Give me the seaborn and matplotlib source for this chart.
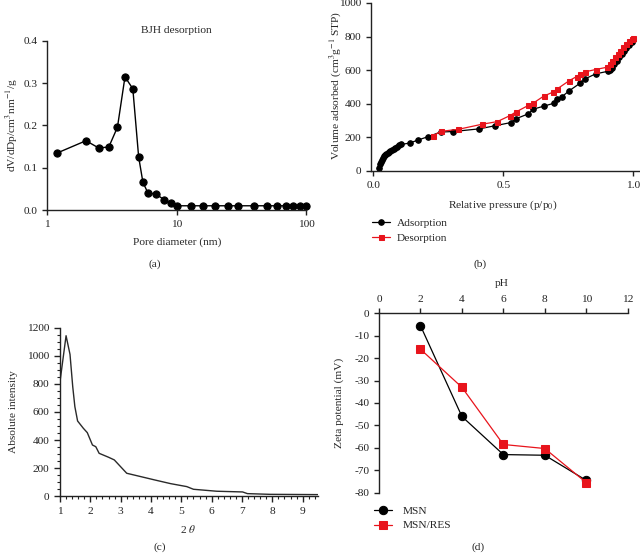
import numpy as np
import pandas as pd
import matplotlib
matplotlib.use("Agg")
import matplotlib.pyplot as plt
import seaborn as sns
from matplotlib.ticker import MultipleLocator, NullLocator, FixedLocator, FuncFormatter

# ---------------- data ----------------
# (a) BJH desorption
pore_d = [1.2, 2, 2.5, 3, 3.5, 4, 4.6, 5.1, 5.5, 6, 7, 8, 9, 10, 13, 16, 20, 25, 30,
          40, 50, 60, 70, 80, 90, 100]
dvdd = [0.135, 0.164, 0.147, 0.149, 0.196, 0.315, 0.287, 0.126, 0.066, 0.041, 0.037,
        0.0245, 0.016, 0.010, 0.010, 0.010, 0.010, 0.010, 0.010, 0.010, 0.010, 0.010,
        0.010, 0.010, 0.010, 0.010]

# (b) isotherm
ads_p = [0.02, 0.025, 0.028, 0.032, 0.036, 0.04, 0.045, 0.05, 0.055, 0.06, 0.065, 0.07,
         0.078, 0.085, 0.092, 0.1, 0.108, 0.141, 0.173, 0.212, 0.259, 0.308, 0.408,
         0.47, 0.528, 0.547, 0.596, 0.615, 0.656, 0.696, 0.706, 0.724, 0.754, 0.795,
         0.814, 0.855, 0.904, 0.91, 0.919, 0.927, 0.936, 0.945, 0.955, 0.965, 0.974,
         0.985, 0.994, 1.0]
ads_v = [16, 40, 55, 68, 80, 88, 96, 103, 108, 114, 120, 126, 133, 139, 145, 152, 158,
         167, 185, 205, 232, 235, 251, 270, 288, 310, 340, 368, 386, 404, 430, 440,
         478, 522, 548, 578, 594, 602, 616, 636, 656, 676, 696, 712, 730, 750, 766, 782]
des_p = [0.231, 0.259, 0.327, 0.417, 0.477, 0.526, 0.547, 0.596, 0.615, 0.656, 0.692,
         0.705, 0.754, 0.782, 0.795, 0.814, 0.855, 0.9, 0.91, 0.92, 0.929, 0.94, 0.949,
         0.962, 0.972, 0.983, 0.994, 1.0]
des_v = [210, 236, 248, 278, 294, 330, 350, 390, 404, 446, 470, 486, 538, 562, 576, 590,
         604, 618, 636, 656, 676, 696, 716, 736, 756, 776, 788, 790]

# (c) XRD
two_theta = [1.0, 1.2, 1.33, 1.42, 1.49, 1.58, 1.77, 1.9, 2.07, 2.18, 2.29, 2.6, 2.79,
             3.2, 4.13, 4.65, 5.18, 5.4, 6.17, 7.02, 7.18, 7.92, 9.5]
intensity = [816, 1143, 1010, 780, 638, 536, 484, 453, 365, 353, 306, 278, 259,
             164, 116, 90, 69, 50, 36, 31, 19, 14, 12]

# (d) zeta potential
ph = [2, 4, 6, 8, 10]
zeta_msn = [-5.5, -46, -63, -63.3, -74.5]
zeta_res = [-16, -33, -58.5, -60.3, -75.5]

# ---------------- style ----------------
sns.set_theme(style="ticks")
plt.rcParams['font.family'] = ['Liberation Serif', 'DejaVu Serif']
plt.rcParams['mathtext.fontset'] = 'stix'
FS = 8.2
plt.rcParams.update({
    'font.size': FS, 'axes.labelsize': FS, 'xtick.labelsize': FS, 'ytick.labelsize': FS,
    'axes.edgecolor': '#222222', 'axes.linewidth': 1.0,
    'xtick.color': '#222222', 'ytick.color': '#222222',
    'xtick.major.width': 1.0, 'ytick.major.width': 1.0,
    'xtick.major.size': 3.5, 'ytick.major.size': 3.5,
    'xtick.direction': 'out', 'ytick.direction': 'out',
    'axes.unicode_minus': False,
})

W, H = 640, 555
fig = plt.figure(figsize=(W / 100, H / 100), dpi=100)


def rect(l, r, t, b):
    return [l / W, 1 - b / H, (r - l) / W, (b - t) / H]


RED = '#e8141c'

# ---- (a)
axa = fig.add_axes(rect(47, 306, 41, 210))
sns.lineplot(x=pore_d, y=dvdd, ax=axa, color='black', lw=1.0, marker='o',
             markersize=5.2, markeredgecolor='black', estimator=None, clip_on=False)
axa.set_xscale('log')
axa.set_xlim(1, 100)
axa.set_ylim(0, 0.4)
axa.xaxis.set_major_locator(FixedLocator([1, 10, 100]))
axa.xaxis.set_minor_locator(NullLocator())
axa.xaxis.set_major_formatter(FuncFormatter(lambda v, p: f"{v:g}"))
axa.yaxis.set_major_locator(MultipleLocator(0.1))
axa.yaxis.set_major_formatter(FuncFormatter(lambda v, p: f"{v:.1f}"))
sns.despine(ax=axa)
axa.set_xlabel('')
axa.set_ylabel('')
fig.text(176.7 / W, 1 - 30.7 / H, 'BJH desorption', ha='center', va='center', fontsize=FS)
fig.text(176.7 / W, 1 - 241.7 / H, 'Pore diameter (nm)', ha='center', va='center', fontsize=FS)
fig.text(12 / W, 1 - 125 / H, r'dV/dDp/cm$^3$nm$^{-1}$/g', ha='center', va='center',
         rotation=90, fontsize=FS)
fig.text(155 / W, 1 - 264 / H, '(a)', ha='center', va='center', fontsize=FS)

# ---- (b)
axb = fig.add_axes(rect(371, 640, 3, 171))
sns.lineplot(x=ads_p, y=ads_v, ax=axb, color='black', lw=0.9, marker='o',
             markersize=4, markeredgecolor='black', estimator=None, sort=False,
             label='Adsorption')
sns.lineplot(x=des_p, y=des_v, ax=axb, color=RED, lw=0.9, marker='s',
             markersize=3.6, markeredgecolor=RED, estimator=None, sort=False,
             label='Desorption')
axb.set_xlim(-0.009, 1.026)
axb.set_ylim(0, 1000)
axb.xaxis.set_major_locator(FixedLocator([0, 0.5, 1.0]))
axb.xaxis.set_major_formatter(FuncFormatter(lambda v, p: f"{v:.1f}"))
axb.yaxis.set_major_locator(MultipleLocator(200))
sns.despine(ax=axb)
axb.set_xlabel('')
axb.set_ylabel('')
fig.text(503 / W, 1 - 205.7 / H, r'Relative pressure (p/p$_0$)', ha='center', va='center',
         fontsize=FS)
fig.text(335 / W, 1 - 85 / H, r'Volume adsorbed (cm$^3$g$^{-1}$ STP)', ha='center',
         va='center', rotation=90, fontsize=FS)
axb.legend(loc='upper left', bbox_to_anchor=(372 / W, 1 - 218 / H),
           bbox_transform=fig.transFigure, frameon=False, fontsize=FS,
           handlelength=1.6, handletextpad=0.6, labelspacing=0.45, borderpad=0,
           borderaxespad=0)
fig.text(480 / W, 1 - 264 / H, '(b)', ha='center', va='center', fontsize=FS)

# ---- (c)
axc = fig.add_axes(rect(60, 317.8, 327.7, 496.3))
sns.lineplot(x=two_theta, y=intensity, ax=axc, color='#2a2a2a', lw=1.0, estimator=None,
             sort=False)
axc.set_xlim(1, 9.5)
axc.set_ylim(0, 1200)
axc.xaxis.set_major_locator(MultipleLocator(1))
axc.xaxis.set_minor_locator(MultipleLocator(0.2))
axc.yaxis.set_major_locator(MultipleLocator(200))
axc.yaxis.set_minor_locator(MultipleLocator(50))
axc.tick_params(which='minor', length=2.2, width=0.8, color='#222222')
axc.tick_params(which='major', length=4)
sns.despine(ax=axc)
axc.set_xlabel('')
axc.set_ylabel('')
fig.text(188 / W, 1 - 529 / H, r'2 $\mathit{\theta}$', ha='center', va='center', fontsize=FS)
fig.text(14 / W, 1 - 411.7 / H, 'Absolute intensity', ha='center', va='center',
         rotation=90, fontsize=FS)
fig.text(160 / W, 1 - 547 / H, '(c)', ha='center', va='center', fontsize=FS)

# ---- (d)
axd = fig.add_axes(rect(379, 627.7, 313.3, 492.7))
sns.lineplot(x=ph, y=zeta_msn, ax=axd, color='black', lw=0.9, marker='o',
             markersize=6, markeredgecolor='black', estimator=None, label='MSN')
sns.lineplot(x=ph, y=zeta_res, ax=axd, color=RED, lw=0.9, marker='s',
             markersize=5.5, markeredgecolor=RED, estimator=None, label='MSN/RES')
axd.set_xlim(0, 12)
axd.set_ylim(-80, 0)
axd.xaxis.set_major_locator(MultipleLocator(2))
axd.yaxis.set_major_locator(MultipleLocator(10))
axd.xaxis.tick_top()
axd.spines['bottom'].set_visible(False)
axd.spines['right'].set_visible(False)
axd.set_xlabel('')
axd.set_ylabel('')
fig.text(501.7 / W, 1 - 284 / H, 'pH', ha='center', va='center', fontsize=FS)
fig.text(339 / W, 1 - 403 / H, 'Zeta potential (mV)', ha='center', va='center',
         rotation=90, fontsize=FS)
axd.legend(loc='upper left', bbox_to_anchor=(374 / W, 1 - 506 / H),
           bbox_transform=fig.transFigure, frameon=False, fontsize=FS,
           handlelength=1.6, handletextpad=0.9, labelspacing=0.4, borderpad=0,
           borderaxespad=0)
fig.text(478 / W, 1 - 547 / H, '(d)', ha='center', va='center', fontsize=FS)

fig.savefig('out.png', dpi=100)
